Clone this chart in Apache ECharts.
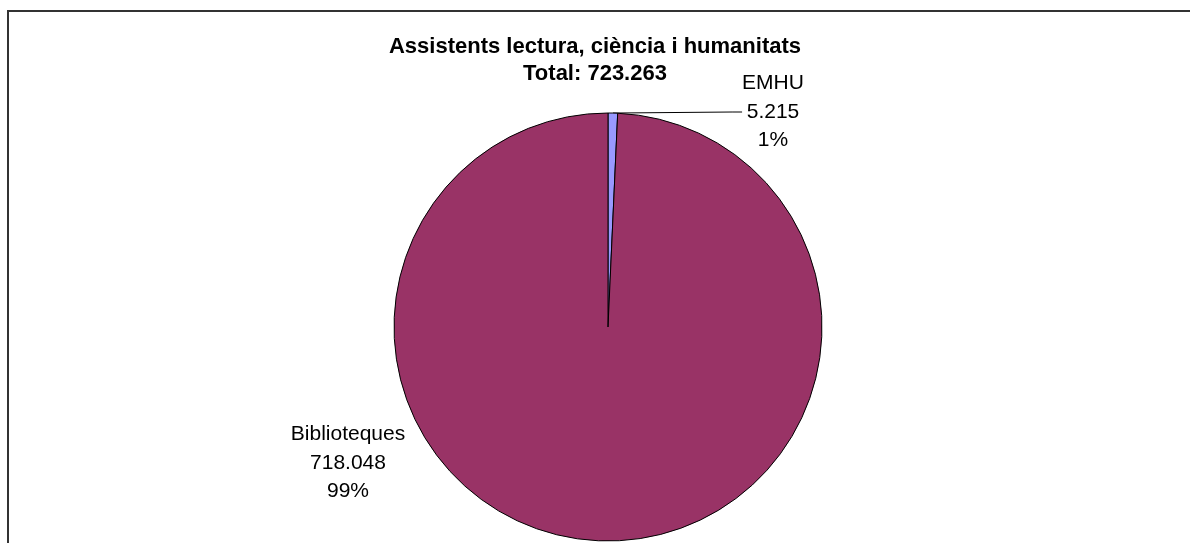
<!DOCTYPE html>
<html>
<head>
<meta charset="utf-8">
<script src="https://cdn.jsdelivr.net/npm/echarts@6/dist/echarts.min.js"></script>
<style>
  html, body { margin: 0; padding: 0; background: #fff; }
  #main { width: 1190px; height: 543px; }
</style>
</head>
<body>
<div id="main"></div>
<script>
// dades del gràfic
const categories = ["EMHU", "Biblioteques"];
const values = [5215, 718048];
const colors = ["#9999FF", "#993366"];
const titleLines = ["Assistents lectura, ciència i humanitats", "Total: 723.263"];

// 5215 -> "5.215"
function fmt(n) {
  return String(n).replace(/\B(?=(\d{3})+(?!\d))/g, ".");
}

const myChart = echarts.init(document.getElementById("main"));

const pieData = categories.map((name, i) => {
  return {
    name: name,
    value: values[i],
    itemStyle: { color: colors[i] },
    labelLine: { show: i === 0 },
  };
});

// posicions de les etiquetes (com a l'original)
const labelPos = [
  { x: 773, y: 112 },
  { x: 348, y: 463 },
];

const option = {
  animation: false,
  backgroundColor: "#fff",
  title: {
    text: titleLines.join("\n"),
    left: "center",
    top: 28,
    textStyle: {
      fontFamily: "Liberation Sans, Arial",
      fontSize: 22,
      fontWeight: "bold",
      color: "#000",
      lineHeight: 27,
    },
  },
  graphic: [
    {
      type: "rect",
      shape: { x: 8, y: 11, width: 1300, height: 700 },
      style: { fill: "none", stroke: "#333", lineWidth: 2 },
      silent: true,
    },
  ],
  series: [
    {
      type: "pie",
      center: [608, 327],
      radius: 214,
      startAngle: 90,
      clockwise: true,
      avoidLabelOverlap: false,
      data: pieData,
      itemStyle: {
        borderColor: "#000",
        borderWidth: 1,
      },
      label: {
        show: true,
        position: "outside",
        fontFamily: "Liberation Sans, Arial",
        fontSize: 21,
        lineHeight: 28.5,
        color: "#000",
        align: "center",
        formatter: (p) => {
          return p.name + "\n" + fmt(p.value) + "\n" + Math.round(p.percent) + "%";
        },
      },
      labelLine: {
        length: 10,
        length2: 10,
        lineStyle: { color: "#000", width: 1 },
      },
      labelLayout: (params) => {
        const pos = labelPos[params.dataIndex];
        return {
          x: pos.x,
          y: pos.y,
          align: "center",
          verticalAlign: "middle",
        };
      },
      emphasis: { disabled: true },
    },
  ],
};

myChart.setOption(option);
</script>
</body>
</html>
